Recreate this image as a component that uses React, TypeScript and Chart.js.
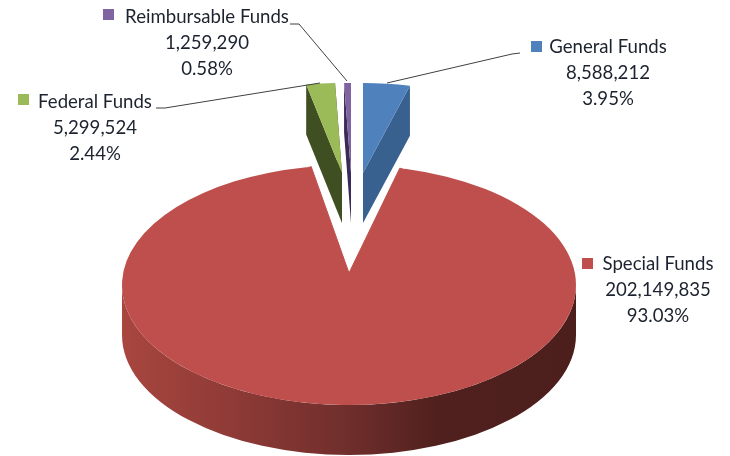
import React, { useEffect, useRef } from "react";
import { Chart, registerables } from "chart.js";

Chart.register(...registerables);

const categories = ["General Funds", "Special Funds", "Federal Funds", "Reimbursable Funds"];
const values = [8588212, 202149835, 5299524, 1259290];
const valueLabels = ["8,588,212", "202,149,835", "5,299,524", "1,259,290"];
const percentLabels = ["3.95%", "93.03%", "2.44%", "0.58%"];
const topColors = ["#4F81BD", "#BE4F4C", "#9BBB59", "#8064A2"];
const sideColors = ["#38618F", "#4D1F1C", "#3F4F22", "#3A2A58"];

// Layout of the projected slices (screen pixels)
const apexX = [363, 349, 342, 351];
const apexY = [173, 285, 173, 173];
const radiusX = [191, 227, 190, 190];
const radiusY = [90, 120, 90, 90];
const depth = 50;
const baseRadius = 227;
const drawOrder = [0, 2, 3, 1];
const redApexLift = 12;
const redCornerInset = 5;

// Layout of the labels
const labelCenterX = [608, 658, 95, 207];
const labelFirstY = [47, 264, 102, 17];
const lineGap = 26;
const swatchX = [531, 582, 18, 103];
const swatchY = [41, 258, 94, 9];
const swatchSize = 11;
const leaders: number[][][] = [
  [[520, 53], [512, 54], [387, 83]],
  [],
  [[156, 108], [165, 108], [320, 83]],
  [[290, 24], [299, 24], [347, 81]],
];

const FONT = "18.6px Lato";
const TEXT = "#1C232E";

const pie3d = {
  id: "pie3d",
  beforeDatasetDraw(chart: any, args: any) {
    const ctx = chart.ctx;
    const arcs = args.meta.data;
    for (const i of drawOrder) {
      const arc = arcs[i];
      const pt = (a: number) => [
        apexX[i] + radiusX[i] * Math.cos(a),
        apexY[i] + radiusY[i] * Math.sin(a),
      ];
      const a0 = arc.startAngle;
      const a1 = arc.endAngle;
      ctx.save();
      if (i === 1) {
        // Near rim, seen between the top face and its lower edge
        const g = ctx.createLinearGradient(apexX[i] - radiusX[i], 0, apexX[i] + radiusX[i], 0);
        g.addColorStop(0, "#A8463F");
        g.addColorStop(0.25, "#8E3A36");
        g.addColorStop(0.5, "#6F2E2C");
        g.addColorStop(0.7, "#4F201D");
        g.addColorStop(1, "#4D1F1C");
        ctx.fillStyle = g;
        ctx.beginPath();
        ctx.ellipse(apexX[i], apexY[i], radiusX[i], radiusY[i], 0, 0, Math.PI);
        ctx.ellipse(apexX[i], apexY[i] + depth, radiusX[i], radiusY[i], 0, Math.PI, 0, true);
        ctx.closePath();
        ctx.fill();
      } else {
        // Cut faces of the pulled-out slices
        ctx.fillStyle = sideColors[i];
        for (const a of [a0, a1]) {
          const p = pt(a);
          ctx.beginPath();
          ctx.moveTo(apexX[i], apexY[i]);
          ctx.lineTo(p[0], p[1]);
          ctx.lineTo(p[0], p[1] + depth);
          ctx.lineTo(apexX[i], apexY[i] + depth);
          ctx.closePath();
          ctx.fill();
        }
      }
      ctx.restore();

      ctx.save();
      ctx.translate(apexX[i], apexY[i]);
      ctx.scale(radiusX[i] / baseRadius, radiusY[i] / baseRadius);
      ctx.translate(-arc.x, -arc.y);
      arc.draw(ctx);
      ctx.restore();

      if (i === 1) {
        // The wedge's point sits above the ellipse centre in the perspective view
        const s = pt(a0);
        const e = pt(a1);
        ctx.save();
        ctx.fillStyle = topColors[i];
        ctx.strokeStyle = topColors[i];
        ctx.lineWidth = 1;
        ctx.lineJoin = "round";
        ctx.beginPath();
        ctx.moveTo(apexX[i], apexY[i] + 2);
        ctx.lineTo(s[0] + 0.5, s[1] + 1);
        ctx.lineTo(s[0] - redCornerInset, s[1] - 0.5);
        ctx.lineTo(apexX[i], apexY[i] - redApexLift);
        ctx.lineTo(e[0] + redCornerInset, e[1] - 0.5);
        ctx.lineTo(e[0] - 0.5, e[1] + 1);
        ctx.closePath();
        ctx.fill();
        ctx.stroke();
        ctx.restore();
      }
    }
    return false;
  },
  afterDraw(chart: any) {
    const ctx = chart.ctx;
    ctx.save();
    ctx.strokeStyle = "#404040";
    ctx.lineWidth = 1;
    for (const path of leaders) {
      if (!path.length) continue;
      ctx.beginPath();
      path.forEach((p, k) => (k ? ctx.lineTo(p[0], p[1]) : ctx.moveTo(p[0], p[1])));
      ctx.stroke();
    }
    ctx.font = FONT;
    ctx.textAlign = "center";
    ctx.textBaseline = "middle";
    categories.forEach((name, i) => {
      ctx.fillStyle = topColors[i];
      ctx.fillRect(swatchX[i], swatchY[i], swatchSize, swatchSize);
      ctx.fillStyle = TEXT;
      [name, valueLabels[i], percentLabels[i]].forEach((line, k) => {
        ctx.fillText(line, labelCenterX[i], labelFirstY[i] + k * lineGap);
      });
    });
    ctx.restore();
  },
};

export default function App() {
  const ref = useRef<HTMLCanvasElement>(null);
  useEffect(() => {
    const chart = new Chart(ref.current as HTMLCanvasElement, {
      type: "pie",
      data: {
        labels: categories,
        datasets: [
          {
            data: values,
            backgroundColor: topColors,
            borderWidth: 0,
            radius: baseRadius,
            clip: false,
          } as any,
        ],
      },
      options: {
        responsive: false,
        animation: false,
        layout: { padding: 0 },
        plugins: { legend: { display: false }, tooltip: { enabled: false } },
      },
      plugins: [pie3d],
    } as any);
    return () => chart.destroy();
  }, []);
  return (
    <div style={{ position: "absolute", left: 0, top: 0, width: 730, height: 456, background: "#fff" }}>
      <canvas ref={ref} width={730} height={456} style={{ display: "block" }} />
    </div>
  );
}
